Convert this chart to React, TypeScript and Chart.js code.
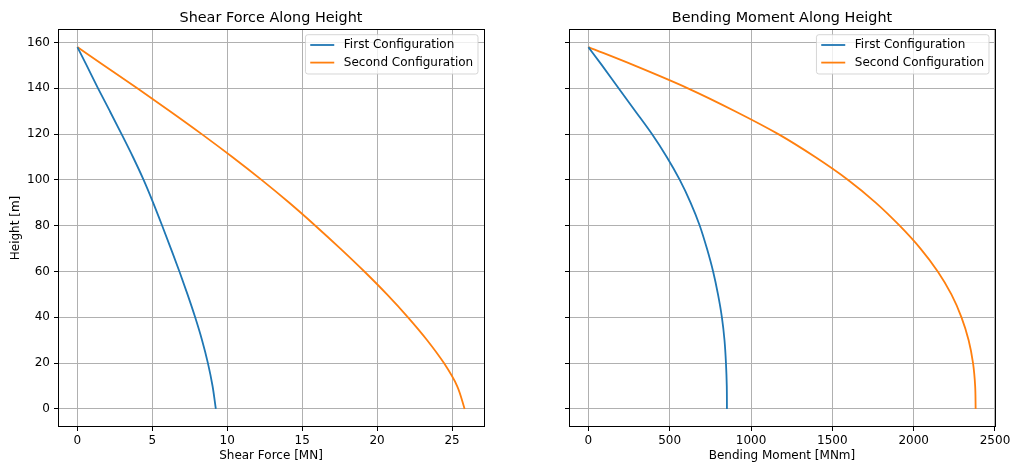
import React, { useEffect, useRef } from 'react';
import { Chart, registerables } from 'chart.js';

Chart.register(...registerables);

// ---- data ----
const heights = [158, 150, 140, 130, 120, 110, 100, 90, 80, 70, 60, 50, 40, 30, 20, 10, 0];
const shearFirst = [0, 0.62, 1.38, 2.17, 2.95, 3.71, 4.42, 5.06, 5.66, 6.24, 6.81, 7.35, 7.86, 8.32, 8.71, 9.02, 9.24];
const shearSecond = [0, 1.78, 4.0, 6.18, 8.3, 10.34, 12.29, 14.14, 15.88, 17.55, 19.15, 20.66, 22.06, 23.34, 24.46, 25.34, 25.84];
const momentFirst = [0, 84, 186, 289, 391, 482, 562, 629, 685, 729, 767, 797, 821, 837, 846, 851, 852];
const momentSecond = [0, 282, 612, 902, 1168, 1395, 1597, 1768, 1914, 2042, 2148, 2232, 2294, 2338, 2365, 2378, 2381];

const seriesLabels = ['First Configuration', 'Second Configuration'];
const seriesColors = ['#1f77b4', '#ff7f0e'];

const shearTicks = [0, 5, 10, 15, 20, 25];
const momentTicks = [0, 500, 1000, 1500, 2000, 2500];
const heightTicks = [0, 20, 40, 60, 80, 100, 120, 140, 160];

const TITLE_SHEAR = 'Shear Force Along Height';
const TITLE_MOMENT = 'Bending Moment Along Height';
const XLABEL_SHEAR = 'Shear Force [MN]';
const XLABEL_MOMENT = 'Bending Moment [MNm]';
const YLABEL = 'Height [m]';

const FONT = '"DejaVu Sans", "Liberation Sans", sans-serif';
const H = 466;

type PanelProps = {
  left: number;
  width: number;
  areaLeft: number;
  areaRight: number;
  title: string;
  xLabel: string;
  xTicks: number[];
  series: number[][];
  showYLabels: boolean;
};

function Panel(props: PanelProps) {
  const ref = useRef<HTMLCanvasElement | null>(null);
  const { width, areaLeft, areaRight, title, xLabel, xTicks, series, showYLabels } = props;

  useEffect(() => {
    if (!ref.current) return;
    const all = series.flat();
    const xMax = Math.max(...all);
    const xMin = Math.min(...all);
    const xr = xMax - xMin;
    const hMax = Math.max(...heights);
    const hMin = Math.min(...heights);
    const hr = hMax - hMin;

    const decor = {
      id: 'decor',
      afterDraw(chart: any) {
        const ctx = chart.ctx as CanvasRenderingContext2D;
        const a = chart.chartArea;
        ctx.save();
        // frame (spines)
        ctx.strokeStyle = '#000';
        ctx.lineWidth = 1;
        ctx.strokeRect(Math.round(a.left) + 0.5, Math.round(a.top) + 0.5,
          Math.round(a.right) - Math.round(a.left), Math.round(a.bottom) - Math.round(a.top) - 1);

        // title
        ctx.fillStyle = '#000';
        ctx.font = `14.4px ${FONT}`;
        ctx.textAlign = 'center';
        ctx.textBaseline = 'alphabetic';
        ctx.fillText(title, (a.left + a.right) / 2, 21.8);

        // legend
        ctx.font = `12px ${FONT}`;
        const tw = Math.max(...chart.data.datasets.map((d: any) => ctx.measureText(d.label).width));
        const pad = 4.8, hl = 24, htp = 9.6;
        const bw = pad + hl + htp + tw + pad;
        const bh = 39.3;
        const bx = a.right - 6 - bw;
        const by = a.top + 5.7;
        ctx.beginPath();
        const r = 2.5;
        ctx.moveTo(bx + r, by);
        ctx.lineTo(bx + bw - r, by);
        ctx.quadraticCurveTo(bx + bw, by, bx + bw, by + r);
        ctx.lineTo(bx + bw, by + bh - r);
        ctx.quadraticCurveTo(bx + bw, by + bh, bx + bw - r, by + bh);
        ctx.lineTo(bx + r, by + bh);
        ctx.quadraticCurveTo(bx, by + bh, bx, by + bh - r);
        ctx.lineTo(bx, by + r);
        ctx.quadraticCurveTo(bx, by, bx + r, by);
        ctx.closePath();
        ctx.fillStyle = 'rgba(255,255,255,0.8)';
        ctx.fill();
        ctx.strokeStyle = 'rgba(204,204,204,0.8)';
        ctx.stroke();
        chart.data.datasets.forEach((d: any, i: number) => {
          const cy = by + 10.3 + i * 17.6;
          ctx.strokeStyle = d.borderColor;
          ctx.lineWidth = 1.8;
          ctx.beginPath();
          ctx.moveTo(bx + pad, cy);
          ctx.lineTo(bx + pad + hl, cy);
          ctx.stroke();
          ctx.fillStyle = '#000';
          ctx.textAlign = 'left';
          ctx.textBaseline = 'middle';
          ctx.fillText(d.label, bx + pad + hl + htp, cy);
        });
        ctx.restore();
      },
    };

    const chart = new Chart(ref.current, {
      type: 'line',
      data: {
        datasets: series.map((vals, i) => ({
          label: seriesLabels[i],
          data: heights.map((h, j) => ({ x: vals[j], y: h })),
          borderColor: seriesColors[i],
          backgroundColor: seriesColors[i],
          borderWidth: 1.8,
          pointRadius: 0,
          pointHoverRadius: 0,
          cubicInterpolationMode: 'monotone',
          fill: false,
        })),
      },
      options: {
        indexAxis: 'y',
        animation: false,
        responsive: false,
        maintainAspectRatio: false,
        events: [],
        layout: { padding: { top: 29, right: width - areaRight, left: 0, bottom: 0 } },
        plugins: {
          legend: { display: false },
          tooltip: { enabled: false },
          title: { display: false },
        },
        scales: {
          x: {
            type: 'linear',
            position: 'bottom',
            min: xMin - 0.05 * xr,
            max: xMax + 0.05 * xr,
            afterBuildTicks: (s: any) => {
              s.ticks = xTicks.map((v) => ({ value: v }));
            },
            afterFit: (s: any) => {
              s.height = H - 427;
            },
            ticks: {
              color: '#000',
              font: { family: FONT, size: 12 },
              padding: 3,
              maxRotation: 0,
              autoSkip: false,
              callback: (v: any) => String(v),
            },
            grid: { color: '#b0b0b0', lineWidth: 1, drawTicks: true, tickLength: 4, tickColor: '#000', tickWidth: 1 },
            border: { display: false },
            title: {
              display: true,
              text: xLabel,
              color: '#000',
              font: { family: FONT, size: 12 },
              padding: { top: 0, bottom: 3 },
            },
          },
          y: {
            type: 'linear',
            position: 'left',
            min: hMin - 0.05 * hr,
            max: hMax + 0.05 * hr,
            afterBuildTicks: (s: any) => {
              s.ticks = heightTicks.map((v) => ({ value: v }));
            },
            afterFit: (s: any) => {
              s.width = areaLeft;
            },
            ticks: {
              display: showYLabels,
              color: '#000',
              font: { family: FONT, size: 12 },
              padding: 4,
              autoSkip: false,
              callback: (v: any) => String(v),
            },
            grid: { color: '#b0b0b0', lineWidth: 1, drawTicks: true, tickLength: 4, tickColor: '#000', tickWidth: 1 },
            border: { display: false },
            title: {
              display: showYLabels,
              text: YLABEL,
              color: '#000',
              font: { family: FONT, size: 12 },
              padding: { top: 9, bottom: 0 },
            },
          },
        },
      } as any,
      plugins: [decor],
    });
    return () => chart.destroy();
  }, []);

  return (
    <canvas
      ref={ref}
      width={width}
      height={H}
      style={{ position: 'absolute', left: props.left, top: 0, width, height: H, display: 'block' }}
    />
  );
}

export default function App() {
  return (
    <div style={{ position: 'absolute', left: 0, top: 0, width: 1016, height: H, background: '#fff', overflow: 'hidden' }}>
      <Panel
        left={0}
        width={510}
        areaLeft={58}
        areaRight={484}
        title={TITLE_SHEAR}
        xLabel={XLABEL_SHEAR}
        xTicks={shearTicks}
        series={[shearFirst, shearSecond]}
        showYLabels={true}
      />
      <Panel
        left={510}
        width={506}
        areaLeft={59}
        areaRight={485}
        title={TITLE_MOMENT}
        xLabel={XLABEL_MOMENT}
        xTicks={momentTicks}
        series={[momentFirst, momentSecond]}
        showYLabels={false}
      />
    </div>
  );
}
